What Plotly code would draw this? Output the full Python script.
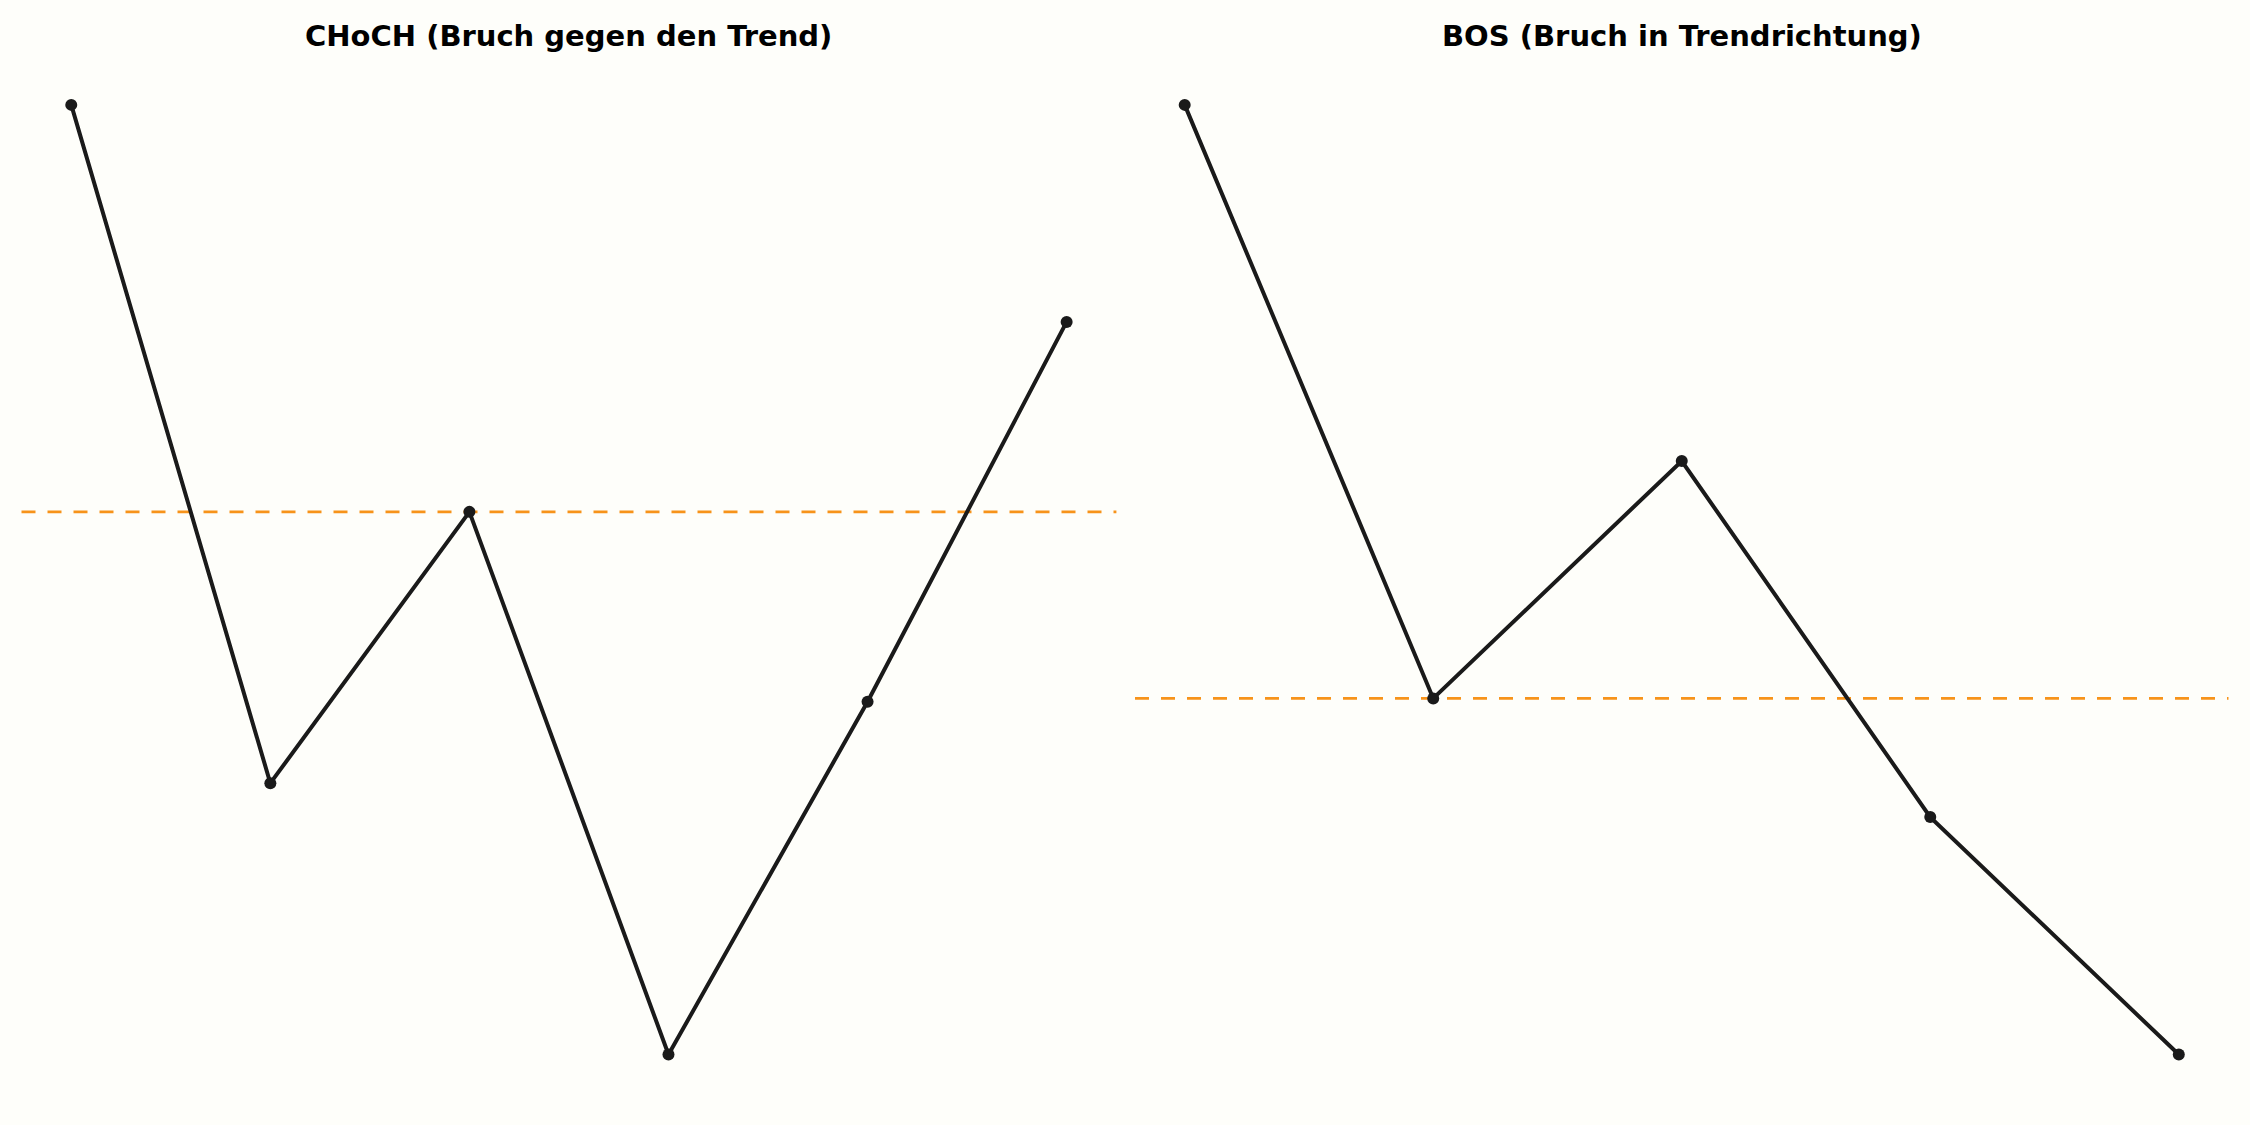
import plotly.graph_objects as go

# ---- data ----
choch_title = "CHoCH (Bruch gegen den Trend)"
bos_title = "BOS (Bruch in Trendrichtung)"

choch_x = [0, 1, 2, 3, 4, 5]
choch_y = [10, 5, 7, 3, 5.6, 8.4]
choch_level = 7

bos_x = [0, 1, 2, 3, 4]
bos_y = [10, 5, 7, 4, 2]
bos_level = 5

# ---- style ----
BG = "#FEFEFA"
LINE = "#1a1a1a"
ORANGE = "#F7931A"
W, H = 2250, 1125

fig = go.Figure()

fig.add_trace(go.Scatter(x=choch_x, y=choch_y, mode="lines+markers",
                         line=dict(color=LINE, width=4),
                         marker=dict(color=LINE, size=12),
                         xaxis="x", yaxis="y", showlegend=False, hoverinfo="skip"))
fig.add_trace(go.Scatter(x=bos_x, y=bos_y, mode="lines+markers",
                         line=dict(color=LINE, width=4),
                         marker=dict(color=LINE, size=12),
                         xaxis="x2", yaxis="y2", showlegend=False, hoverinfo="skip"))

# horizontal break levels
fig.add_shape(type="line", xref="x domain", yref="y", x0=0, x1=1,
              y0=choch_level, y1=choch_level,
              line=dict(color=ORANGE, width=2.7, dash="14px,12px"), layer="below")
fig.add_shape(type="line", xref="x2 domain", yref="y2", x0=0, x1=1,
              y0=bos_level, y1=bos_level,
              line=dict(color=ORANGE, width=2.7, dash="14px,12px"), layer="below")

def pad(vals, frac=0.05):
    lo, hi = min(vals), max(vals)
    m = (hi - lo) * frac
    return [lo - m, hi + m]

ax_common = dict(visible=False, showgrid=False, zeroline=False, fixedrange=True)

ytop = 1 - 57.4 / H
ybot = 1 - 1102 / H

fig.update_layout(
    width=W, height=H,
    margin=dict(l=0, r=0, t=0, b=0),
    paper_bgcolor=BG, plot_bgcolor=BG,
    xaxis=dict(domain=[21.5 / W, 1116.4 / W], range=pad(choch_x), **ax_common),
    yaxis=dict(domain=[ybot, ytop], range=pad(choch_y), **ax_common),
    xaxis2=dict(domain=[1135 / W, 2228.5 / W], range=pad(bos_x), anchor="y2", **ax_common),
    yaxis2=dict(domain=[ybot, ytop], range=pad(bos_y), anchor="x2", **ax_common),
)

title_font = dict(family="DejaVu Sans", size=29, color="#000000")
for xref, txt in (("x domain", choch_title), ("x2 domain", bos_title)):
    fig.add_annotation(xref=xref, yref="paper", x=0.5, y=1 - 36 / H,
                       xanchor="center", yanchor="middle", showarrow=False,
                       text="<b>" + txt + "</b>", font=title_font)

fig.write_html(
    "out.html",
    config={"displayModeBar": False},
    post_script="document.body.style.margin='0';document.body.style.background='%s';" % BG,
)
